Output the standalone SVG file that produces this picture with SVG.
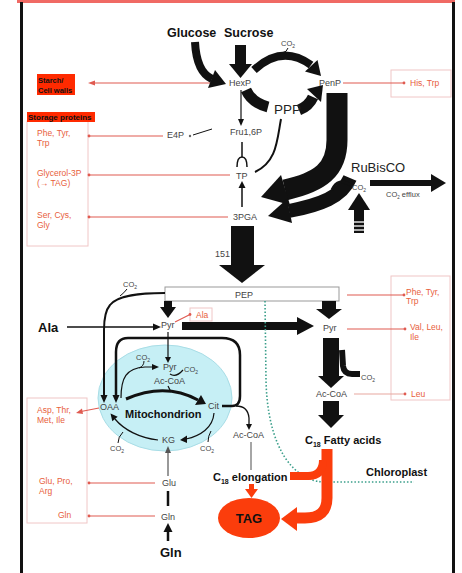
<svg xmlns="http://www.w3.org/2000/svg" width="462" height="573" viewBox="0 0 462 573">
<style>
text{font-family:"Liberation Sans",Arial,sans-serif}
.s{font-size:9px;fill:#444}
.c{font-size:7.5px;fill:#444}
.r{font-size:8.5px;fill:#e8603c}
.b{font-weight:bold;fill:#111}
.rl{stroke:#e05a50;stroke-width:1.2;fill:none}
.bx{fill:#fff;stroke:#f0c6c6;stroke-width:1}
.k{stroke:#111;fill:none}
.kf{fill:#111}
.rf{fill:#fb3d0c}
.rs{stroke:#fb3d0c;fill:none}
.rd{fill:#e05a50}
</style>
<rect width="462" height="573" fill="#fff"/>
<g id="frame">
<rect x="17" y="0" width="438" height="3" fill="#f06a64"/>
<rect x="20" y="2" width="3" height="571" fill="#111"/>
<rect x="452" y="2" width="3" height="571" fill="#111"/>
</g>
<g id="boxes">
<rect class="bx" x="27" y="121" width="61" height="125"/>
<rect class="bx" x="27" y="398" width="60" height="125"/>
<rect class="bx" x="391" y="70" width="60" height="27"/>
<rect class="bx" x="391" y="276" width="59" height="124"/>
<rect class="bx" x="190" y="308" width="22" height="13"/>
<rect class="bx" x="165" y="287" width="174" height="14" style="stroke:#999"/>
</g>
<g id="mito-area">
<ellipse cx="165" cy="398" rx="67" ry="53" fill="#c6eff5" stroke="#a8dde6"/>
</g>
<g id="connectors">
<!-- red lines -->
<path class="rl" d="M213,83 L93,83"/><polygon class="rd" points="88,83 95,80.5 95,85.5"/>
<path class="rl" d="M343,83 L403,83"/><circle class="rd" cx="404" cy="83" r="1.4"/>
<path class="rl" d="M163,136 L90,136"/><circle class="rd" cx="89" cy="136" r="1.4"/>
<path class="rl" d="M230,175 L90,175"/><circle class="rd" cx="89" cy="175" r="1.4"/>
<path class="rl" d="M228,217 L90,217"/><circle class="rd" cx="89" cy="217" r="1.4"/>
<path class="rl" d="M347,295 L403,295"/><circle class="rd" cx="404" cy="295" r="1.4"/>
<path class="rl" d="M347,329 L404,329"/><circle class="rd" cx="405" cy="329" r="1.4"/>
<path class="rl" d="M354,394 L404,394" style="stroke:#e8a8a0"/><circle class="rd" cx="405" cy="394" r="1.4"/>
<path class="rl" d="M175,322 L189,315"/><circle class="rd" cx="190" cy="314.5" r="1.4"/>
<path class="rl" d="M99,408 L81,411.5"/><polygon class="rd" points="76,413 82,408.5 83,414"/>
<path class="rl" d="M155,483 L90,483"/><circle class="rd" cx="89" cy="483" r="1.4"/>
<path class="rl" d="M155,516 L90,516"/><circle class="rd" cx="89" cy="516" r="1.4"/>
<!-- top inputs -->
<path class="k" d="M195,42 C196,62 201,74 212,79" stroke-width="8"/>
<polygon class="kf" points="226,84 215,70 208,88"/>
<rect class="kf" x="235" y="45" width="11" height="20"/>
<polygon class="kf" points="229,64 252,64 240.5,78"/>
<!-- HexP to PenP arc -->
<path class="k" d="M254,70 Q282,44 311,65" stroke-width="8"/>
<polygon class="kf" points="321,76 305,71.5 317.5,60"/>
<path class="k" d="M288,48 Q287,52 282,53" stroke-width="1"/>
<!-- PPP -->
<path class="k" d="M246,90 Q252,103 268,107" stroke-width="11"/>
<path class="k" d="M299,110 Q309,106 313,97" stroke-width="11"/>
<polygon class="kf" points="323,85 307,89 321,102"/>
<!-- glycolysis -->
<line class="k" x1="241" y1="90" x2="241" y2="120" stroke-width="1.2"/>
<polygon class="kf" points="238,119 244,119 241,126"/>
<line class="k" x1="193" y1="135" x2="212" y2="129" stroke="#777" stroke-width="1"/>
<circle cx="190" cy="136" r="1.2" fill="#666"/>
<line class="k" x1="242" y1="142" x2="242" y2="157" stroke-width="1.5"/>
<path class="k" d="M237,167 Q237,157 242,157 Q247,157 247,167" stroke-width="1.5"/>
<path class="k" d="M281,119 C277,140 277,162 255,172" stroke-width="2"/>
<line class="k" x1="242" y1="207" x2="242" y2="187" stroke-width="1.5"/>
<polygon class="kf" points="238.5,188 245.5,188 242,181"/>
<!-- Calvin band -->
<path class="k" d="M337,93 L337,140 C337,170 320,182 285,190" stroke-width="21"/>
<polygon class="kf" points="261,197 281,175 290,205"/>
<path class="k" d="M350,178 C342,197 320,205 289,211" stroke-width="14"/>
<polygon class="kf" points="268,216 287,199 292,223"/>
<path class="k" d="M332,190 Q338,177 351,185" stroke-width="3"/>
<!-- CO2 efflux and input -->
<rect class="kf" x="370" y="180" width="62" height="6"/>
<polygon class="kf" points="431,174 446,183 431,192"/>
<polygon class="kf" points="348,210 359,193 370,210"/>
<rect class="kf" x="354" y="209" width="10" height="24"/>
<line x1="353" y1="222" x2="365" y2="222" stroke="#fff" stroke-width="1.3"/>
<line x1="353" y1="226" x2="365" y2="226" stroke="#fff" stroke-width="1.3"/>
<line x1="353" y1="230" x2="365" y2="230" stroke="#fff" stroke-width="1.3"/>
<!-- 3PGA to PEP -->
<rect class="kf" x="231" y="226" width="23" height="40"/>
<polygon class="kf" points="219,265 265,265 242,283"/>
<!-- PEP to Pyr -->
<rect class="kf" x="164" y="301" width="8" height="7"/>
<polygon class="kf" points="160,307 176,307 168,318"/>
<rect class="kf" x="322" y="301" width="14" height="9"/>
<polygon class="kf" points="316,309 342,309 329,319"/>
<!-- Ala to Pyr -->
<line class="k" x1="67" y1="327" x2="154" y2="327" stroke-width="1.5"/>
<polygon class="kf" points="153,323.5 161,327 153,330.5"/>
<!-- Pyr to plastid Pyr -->
<rect class="kf" x="182" y="322" width="116" height="8"/>
<polygon class="kf" points="297,317 314,326 297,335"/>
<!-- plastid Pyr to Ac-CoA -->
<rect class="kf" x="323" y="338" width="16" height="39"/>
<polygon class="kf" points="318,376 344,376 331,388"/>
<path class="k" d="M342,350 L343,366 Q344,374 352,374 L360,374" stroke-width="6"/>
<rect class="kf" x="323" y="401" width="16" height="15"/>
<polygon class="kf" points="318,415 344,415 331,428"/>
<!-- chloroplast envelope -->
<path d="M265,301 L266,380 C267,430 282,468 310,479 Q316,482 326,482 L414,482" fill="none" stroke="#3a9e8a" stroke-width="1.6" stroke-dasharray="1.5 2"/>
<!-- red fatty acid arrows -->
<path class="rs" d="M327,449 L327,498 Q327,518 305,518 L296,518" stroke-width="11"/>
<polygon class="rf" points="297,507 281,519 297,531"/>
<path class="rs" d="M323,460 Q323,476 308,476 L290,476" stroke-width="8"/>
<rect class="rf" x="249" y="484" width="5" height="6"/>
<polygon class="rf" points="245,489 258,489 251.5,498"/>
<!-- mitochondrion connections -->
<path class="k" d="M165,293 C140,293 118,295 110,305 Q104,312 104,330 L104,396" stroke-width="2"/>
<polygon class="kf" points="100.5,395 107.5,395 104,403"/>
<path class="k" d="M127,289 Q124,293 120,296" stroke-width="1"/>
<path class="k" d="M222,406 L232,406 Q240,406 240,396 L240,355 Q240,338 222,338 L128,338 Q116,338 116,352 L116,396" stroke-width="2.5"/>
<polygon class="kf" points="112.5,395 119.5,395 116,403"/>
<path class="k" d="M236,406 Q248,406 249,418 L249,425" stroke-width="1.3"/>
<polygon class="kf" points="246,424 252,424 249,430"/>
<line x1="251" y1="442" x2="251" y2="470" stroke="#888" stroke-width="1.5"/>
<line class="k" x1="168" y1="332" x2="168" y2="358" stroke-width="1.2"/>
<polygon class="kf" points="165,357 171,357 168,363"/>
<path class="k" d="M121,398 C121,378 126,368 145,367 L152,367" stroke-width="1.2"/>
<polygon class="kf" points="152,364 159,367 152,370"/>
<path class="k" d="M144,361 Q144,366 139,368" stroke-width="1"/>
<path class="k" d="M170,374 Q176,378 183,370" stroke-width="1.2"/>
<line class="k" x1="168" y1="386" x2="171" y2="392" stroke-width="1.2"/>
<path class="k" d="M126,399 Q165,382 198,400" stroke-width="3"/>
<polygon class="kf" points="206,404 195,405 201,395"/>
<path class="k" d="M214,413 C213,428 200,436 186,439" stroke-width="1.2"/>
<polygon class="kf" points="187,435.5 180,440 187,443"/>
<path class="k" d="M211,431 Q208,436 208,442" stroke-width="1"/>
<path class="k" d="M158,440 C140,438 124,430 115,419" stroke-width="1.2"/>
<polygon class="kf" points="110.5,413.5 117.7,416.8 112.3,421.2"/>
<path class="k" d="M123,432 Q118,437 118,443" stroke-width="1"/>
<!-- Gln / Glu -->
<line x1="168" y1="476" x2="168" y2="452" stroke="#555" stroke-width="1.2"/>
<polygon points="165,453 171,453 168,446" fill="#555"/>
<line class="k" x1="168" y1="491" x2="168" y2="506" stroke-width="2.5"/>
<line class="k" x1="168" y1="541" x2="168" y2="530" stroke-width="2.5"/>
<polygon class="kf" points="163.5,532 172.5,532 168,523"/>
</g>
<g id="n-glucose"><text class="b" x="167" y="37" font-size="12.5">Glucose</text></g>
<g id="n-sucrose"><text class="b" x="224" y="37" font-size="12.5">Sucrose</text></g>
<g id="n-co2-top"><text class="c" x="281" y="46">CO<tspan font-size="5" dy="2">2</tspan></text></g>
<g id="n-hexp"><text class="s" x="229" y="86">HexP</text></g>
<g id="n-penp"><text class="s" x="319" y="86">PenP</text></g>
<g id="n-ppp"><text x="274" y="114" font-size="13.5" fill="#222">PPP</text></g>
<g id="n-starch">
<rect x="37" y="74" width="38" height="21" fill="#ff2a00"/>
<text class="b" x="38" y="83" font-size="7.5" fill="#300">Starch/</text>
<text class="b" x="38" y="93" font-size="7.5" fill="#300">Cell walls</text>
</g>
<g id="n-storage">
<rect x="27" y="112" width="68" height="10" fill="#ff2a00"/>
<text class="b" x="28" y="120" font-size="8" fill="#300">Storage proteins</text>
</g>
<g id="n-left-top-products">
<text class="r" x="37" y="136">Phe, Tyr,</text><text class="r" x="37" y="146">Trp</text>
<text class="r" x="37" y="176">Glycerol-3P</text><text class="r" x="37" y="186">(→ TAG)</text>
<text class="r" x="37" y="218">Ser, Cys,</text><text class="r" x="37" y="228">Gly</text>
</g>
<g id="n-histrp"><text class="r" x="410" y="86">His, Trp</text></g>
<g id="n-e4p"><text class="s" x="167" y="138">E4P</text></g>
<g id="n-fru"><text class="s" x="230" y="135">Fru1,6P</text></g>
<g id="n-tp"><text class="s" x="236" y="179">TP</text></g>
<g id="n-3pga"><text class="s" x="233" y="220">3PGA</text></g>
<g id="n-rubisco"><text x="351" y="172" font-size="13" fill="#222">RuBisCO</text></g>
<g id="n-co2-rub"><text class="c" x="352" y="190">CO<tspan font-size="5" dy="2">2</tspan></text></g>
<g id="n-co2-efflux"><text class="c" x="386" y="197" font-size="6.5">CO<tspan font-size="4.5" dy="2">2</tspan><tspan dy="-2"> efflux</tspan></text></g>
<g id="n-151"><text class="s" x="215" y="257" font-size="8">151</text></g>
<g id="n-pep"><text class="s" x="235" y="298">PEP</text></g>
<g id="n-co2-pepc"><text class="c" x="123" y="287">CO<tspan font-size="5" dy="2">2</tspan></text></g>
<g id="n-pyr-cyt"><text class="s" x="161" y="328">Pyr</text></g>
<g id="n-ala-small"><text class="r" x="196" y="318" font-size="7.5">Ala</text></g>
<g id="n-ala"><text class="b" x="38" y="332" font-size="13">Ala</text></g>
<g id="n-pyr-pl"><text class="s" x="323" y="331">Pyr</text></g>
<g id="n-right-products">
<text class="r" x="406" y="295">Phe, Tyr,</text><text class="r" x="406" y="304">Trp</text>
<text class="r" x="410" y="330">Val, Leu,</text><text class="r" x="410" y="340">Ile</text>
<text class="r" x="411" y="397">Leu</text>
</g>
<g id="n-co2-pl"><text class="c" x="361" y="380">CO<tspan font-size="5" dy="2">2</tspan></text></g>
<g id="n-accoa-pl"><text class="s" x="316" y="397">Ac-CoA</text></g>
<g id="n-fa"><text class="b" x="305" y="444" font-size="11">C<tspan font-size="7" dy="2.5">18</tspan><tspan dy="-2.5"> Fatty acids</tspan></text></g>
<g id="n-chloroplast"><text class="b" x="366" y="476" font-size="11">Chloroplast</text></g>
<g id="n-elong"><text class="b" x="213" y="481" font-size="11">C<tspan font-size="7" dy="2.5">18</tspan><tspan dy="-2.5"> elongation</tspan></text></g>
<g id="n-tag">
<ellipse class="rf" cx="249" cy="518" rx="31" ry="20"/>
<text class="b" x="249" y="523" font-size="13" text-anchor="middle" fill="#2a1a10">TAG</text>
</g>
<g id="n-mito">
<text class="b" x="125" y="418" font-size="11">Mitochondrion</text>
<text class="s" x="163" y="370" font-size="8.5">Pyr</text>
<text class="s" x="154" y="384" font-size="8.5">Ac-CoA</text>
<text class="c" x="136" y="360">CO<tspan font-size="5" dy="2">2</tspan></text>
<text class="c" x="184" y="372">CO<tspan font-size="5" dy="2">2</tspan></text>
<text class="s" x="100" y="410" font-size="8.5">OAA</text>
<text class="s" x="208" y="409" font-size="8.5">Cit</text>
<text class="s" x="162" y="443" font-size="8.5">KG</text>
<text class="c" x="110" y="451">CO<tspan font-size="5" dy="2">2</tspan></text>
<text class="c" x="200" y="451">CO<tspan font-size="5" dy="2">2</tspan></text>
</g>
<g id="n-accoa-cyt"><text class="s" x="233" y="438" font-size="8.5">Ac-CoA</text></g>
<g id="n-left-bottom-products">
<text class="r" x="37" y="413">Asp, Thr,</text><text class="r" x="37" y="423">Met, Ile</text>
<text class="r" x="39" y="484">Glu, Pro,</text><text class="r" x="39" y="494">Arg</text>
<text class="r" x="58" y="518">Gln</text>
</g>
<g id="n-glu"><text class="s" x="162" y="486" font-size="8.5">Glu</text></g>
<g id="n-gln"><text class="s" x="161" y="520" font-size="8.5">Gln</text></g>
<g id="n-gln-in"><text class="b" x="160" y="557" font-size="13">Gln</text></g>
</svg>
